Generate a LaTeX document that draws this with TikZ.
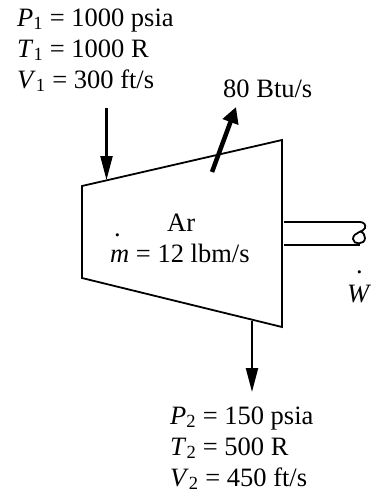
\documentclass[tikz,border=0pt]{standalone}
\usepackage{fontspec}
\setmainfont{Liberation Serif}
\usepackage{tikz}
\usetikzlibrary{arrows.meta,positioning,calc}
\newcommand{\qty}[2]{\textit{#1}\textsubscript{#2}}

\begin{document}
\begin{tikzpicture}[x=1pt, y=-1pt,
    label/.style={anchor=base west, inner sep=0pt, font=\fontsize{26.5}{30}\selectfont},
    wall/.style={line width=1.8pt},
    flow/.style={-{Triangle[length=24pt, width=12pt]}, line width=2.2pt},
    heat/.style={-{Triangle[length=16pt, width=16pt]}, line width=4.5pt}]
    \useasboundingbox (0,0) rectangle (370,493);

    \coordinate (topleft) at (82,186);
    \coordinate (topright) at (282,140);
    \coordinate (botright) at (282,327);
    \coordinate (botleft) at (82,278);
    \draw[wall] (topleft) -- (topright) -- (botright) -- (botleft) -- cycle;

    \node[label] (p1) at (17,26) {\qty{P}{1} = 1000 psia};
    \node[label] (t1) at (17,57) {\qty{T}{1} = 1000 R};
    \node[label] (v1) at (17,88) {\qty{V}{1} = 300 ft/s};
    \node[label] (qout) at (223,97) {80 Btu/s};
    \node[label] (gas) at (167,231) {Ar};
    \node[label] (mdot) at (110,262) {\textit{m} = 12 lbm/s};
    \node[label] (mdotdot) at (114,236) {.};
    \node[label] (w) at (347,302) {\textit{W}};
    \node[label] (wdot) at (356,273) {.};
    \node[label] (p2) at (170,424) {\qty{P}{2} = 150 psia};
    \node[label] (t2) at (170,455) {\qty{T}{2} = 500 R};
    \node[label] (v2) at (170,486) {\qty{V}{2} = 450 ft/s};

    \coordinate (inA) at (106.5,108);
    \coordinate (inB) at (106.5,180);
    \draw[flow] (inA) -- (inB);

    \coordinate (outA) at (252,321);
    \coordinate (outB) at (252,392);
    \draw[flow] (outA) -- (outB);

    \coordinate (heatA) at (212,172);
    \coordinate (heatB) at (236,107);
    \draw[heat] (heatA) -- (heatB);

    \coordinate (shaftA) at (284,222);
    \coordinate (shaftB) at (360,222);
    \coordinate (shaftC) at (284,245);
    \coordinate (shaftD) at (360,245);
    \draw[wall] (shaftA) -- (shaftB);
    \draw[wall] (shaftC) -- (shaftD);
    \draw[wall] (shaftB) .. controls (364,222) and (366,225) .. (365,228)
        .. controls (364,232) and (353,232) .. (353,239)
        .. controls (353,245) and (365,245) .. (365,238)
        .. controls (365,235) and (363,232) .. (361,232);
\end{tikzpicture}
\end{document}
